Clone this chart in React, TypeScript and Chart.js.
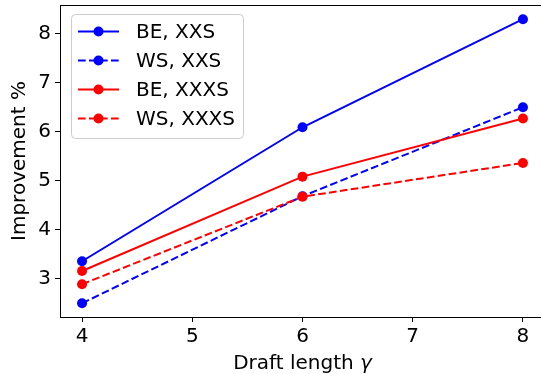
import React, { useEffect, useRef } from "react";
import { Chart, registerables } from "chart.js";

Chart.register(...registerables);

const draftLengths = [4, 6, 8];
const beXXS = [3.35, 6.09, 8.3];
const wsXXS = [2.49, 4.68, 6.5];
const beXXXS = [3.15, 5.08, 6.27];
const wsXXXS = [2.88, 4.67, 5.36];
const seriesLabels = ["BE, XXS", "WS, XXS", "BE, XXXS", "WS, XXXS"];
const xTicks = [4, 5, 6, 7, 8];
const yTicks = [3, 4, 5, 6, 7, 8];

const FONT = '"DejaVu Sans", sans-serif';
const FS = 20;
const DASH = [7.7, 3.3];
const PR = 5;

const overlay = {
  id: "overlay",
  afterDraw(chart: any) {
    const ctx = chart.ctx as CanvasRenderingContext2D;
    const { left, right, top, bottom } = chart.chartArea;
    ctx.save();
    // top spine
    ctx.strokeStyle = "#000";
    ctx.lineWidth = 1;
    ctx.setLineDash([]);
    ctx.beginPath();
    ctx.moveTo(left, top + 0.5);
    ctx.lineTo(right, top + 0.5);
    ctx.stroke();

    // x title
    ctx.fillStyle = "#000";
    ctx.textBaseline = "alphabetic";
    ctx.textAlign = "left";
    const t1 = "Draft length ";
    const t2 = "γ";
    ctx.font = `${FS}px ${FONT}`;
    const w1 = ctx.measureText(t1).width;
    ctx.font = `italic ${FS}px ${FONT}`;
    const w2 = ctx.measureText(t2).width;
    const cx = (left + right) / 2;
    const sx = cx - (w1 + w2) / 2;
    ctx.font = `${FS}px ${FONT}`;
    ctx.fillText(t1, sx, 369);
    ctx.font = `italic ${FS}px ${FONT}`;
    ctx.fillText(t2, sx + w1, 369);

    // y title
    ctx.save();
    ctx.translate(20, (top + bottom) / 2);
    ctx.rotate(-Math.PI / 2);
    ctx.font = `${FS}px ${FONT}`;
    ctx.textAlign = "center";
    ctx.textBaseline = "middle";
    ctx.fillText("Improvement %", 0, 0);
    ctx.restore();

    // legend
    const bx = 71, by = 14, bw = 172, bh = 124;
    ctx.beginPath();
    (ctx as any).roundRect(bx + 0.5, by + 0.5, bw, bh, 4);
    ctx.fillStyle = "rgba(255,255,255,0.8)";
    ctx.fill();
    ctx.strokeStyle = "#cccccc";
    ctx.lineWidth = 1;
    ctx.stroke();
    const ds = chart.data.datasets;
    for (let i = 0; i < ds.length; i++) {
      const d = ds[i];
      const yy = 31.5 + i * 29;
      ctx.strokeStyle = d.borderColor;
      ctx.lineWidth = 2;
      ctx.setLineDash(d.borderDash || []);
      ctx.beginPath();
      ctx.moveTo(78, yy);
      ctx.lineTo(119, yy);
      ctx.stroke();
      ctx.setLineDash([]);
      ctx.fillStyle = d.borderColor;
      ctx.beginPath();
      ctx.arc(98.5, yy, PR, 0, Math.PI * 2);
      ctx.fill();
      ctx.fillStyle = "#000";
      ctx.font = `${FS}px ${FONT}`;
      ctx.textAlign = "left";
      ctx.textBaseline = "alphabetic";
      ctx.fillText(d.label, 136, yy + 6.5);
    }
    ctx.restore();
  },
};

const zeroPad = (s: any) => {
  s.paddingTop = 0;
  s.paddingBottom = 0;
  s.paddingLeft = 0;
  s.paddingRight = 0;
};

export default function App() {
  const ref = useRef<HTMLCanvasElement>(null);
  useEffect(() => {
    const mk = (vals: number[]) => draftLengths.map((x, i) => ({ x, y: vals[i] }));
    const all = [beXXS, wsXXS, beXXXS, wsXXXS];
    const colors = ["#0000ff", "#0000ff", "#ff0000", "#ff0000"];
    const dashed = [false, true, false, true];
    const chart = new Chart(ref.current!, {
      type: "line",
      data: {
        datasets: all.map((vals, i) => ({
          label: seriesLabels[i],
          data: mk(vals),
          borderColor: colors[i],
          backgroundColor: colors[i],
          borderWidth: 2,
          borderDash: dashed[i] ? DASH : [],
          pointRadius: PR,
          pointBorderWidth: 0,
          pointBackgroundColor: colors[i],
          pointStyle: "circle",
          fill: false,
          tension: 0,
          order: 3 - i,
        })),
      },
      options: {
        animation: false,
        responsive: false,
        devicePixelRatio: 1,
        layout: { padding: { left: 0, right: 15, top: 3, bottom: 0 } },
        plugins: { legend: { display: false }, tooltip: { enabled: false } },
        scales: {
          x: {
            type: "linear",
            min: 3.8,
            max: 8.2,
            afterFit: (s: any) => { s.height = 57; zeroPad(s); },
            afterBuildTicks: (s: any) => { s.ticks = xTicks.map((v) => ({ value: v })); },
            grid: { drawOnChartArea: false, drawTicks: true, tickLength: 5, tickColor: "#000", tickWidth: 1 },
            border: { display: true, color: "#000", width: 1 },
            ticks: { color: "#000", font: { family: FONT, size: FS }, padding: 3, maxRotation: 0, autoSkip: false },
          },
          y: {
            type: "linear",
            min: 2.21,
            max: 8.59,
            afterFit: (s: any) => { s.width = 60; zeroPad(s); },
            afterBuildTicks: (s: any) => { s.ticks = yTicks.map((v) => ({ value: v })); },
            grid: { drawOnChartArea: false, drawTicks: true, tickLength: 5, tickColor: "#000", tickWidth: 1 },
            border: { display: true, color: "#000", width: 1 },
            ticks: { color: "#000", font: { family: FONT, size: FS }, padding: 4, autoSkip: false },
          },
        },
      },
      plugins: [overlay],
    });
    return () => chart.destroy();
  }, []);
  return (
    <div style={{ position: "fixed", left: 0, top: 0, width: 541, height: 374, overflow: "hidden", background: "#fff" }}>
      <canvas ref={ref} width={560} height={374} style={{ display: "block" }} />
    </div>
  );
}
